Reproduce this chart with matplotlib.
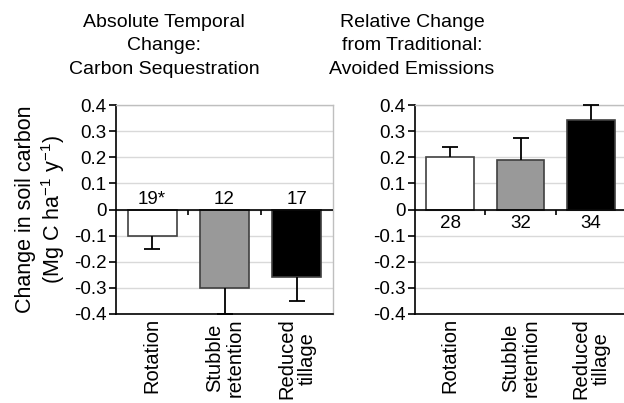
import numpy as np
import matplotlib
matplotlib.use("Agg")
import matplotlib.pyplot as plt

plt.rcParams["font.family"] = ["Liberation Sans", "DejaVu Sans"]
plt.rcParams["mathtext.fontset"] = "custom"
plt.rcParams["mathtext.rm"] = "Liberation Sans"
plt.rcParams["mathtext.it"] = "Liberation Sans:italic"

categories = ["Rotation", "Stubble\nretention", "Reduced\ntillage"]
bar_colors = ["white", "#999999", "black"]

abs_values = [-0.10, -0.30, -0.26]
abs_errors = [0.053, 0.10, 0.092]
abs_counts = ["19*", "12", "17"]

rel_values = [0.20, 0.19, 0.342]
rel_errors = [0.039, 0.085, 0.058]
rel_counts = ["28", "32", "34"]

titles = ["Absolute Temporal\nChange:\nCarbon Sequestration",
          "Relative Change\nfrom Traditional:\nAvoided Emissions"]
yticks = [-0.4, -0.3, -0.2, -0.1, 0, 0.1, 0.2, 0.3, 0.4]
ytick_labels = ["-0.4", "-0.3", "-0.2", "-0.1", "0", "0.1", "0.2", "0.3", "0.4"]

W, H = 624, 403
fig = plt.figure(figsize=(W / 100, H / 100), dpi=100)
fig.patch.set_facecolor("white")


def px_axes(x0, x1, y_top, y_bot):
    return fig.add_axes([x0 / W, (H - y_bot) / H, (x1 - x0) / W, (y_bot - y_top) / H])


def draw_panel(ax, values, errors, counts, counts_above):
    x = np.arange(1, len(values) + 1)
    ax.set_xlim(0.5, len(values) + 0.5)
    ax.set_ylim(-0.4, 0.4)
    ax.set_yticks(yticks)
    ax.set_yticklabels(ytick_labels)
    ax.yaxis.grid(True, color="#d9d9d9", linewidth=1)
    ax.set_axisbelow(True)

    ax.bar(x, values, width=0.68, color=bar_colors, edgecolor="#404040",
           linewidth=1.2, zorder=2)

    # one-sided error bars, pointing away from zero, capped only at the tip
    vals = np.array(values)
    tips = vals + np.sign(vals) * np.array(errors)
    ax.vlines(x, vals, tips, color="black", linewidth=1.3, zorder=3,
              clip_on=False)
    ax.plot(x, tips, ls="none", marker="_", markersize=11, mew=1.3,
            color="black", zorder=3, clip_on=False)

    ax.axhline(0, color="black", linewidth=1.2, zorder=4)
    ax.vlines(np.arange(1.5, len(values)), -0.022, 0, color="black",
              linewidth=1.2, zorder=4)

    for xi, c in zip(x, counts):
        if counts_above:
            ax.text(xi, 0.006, c, ha="center", va="bottom", fontsize=13.5)
        else:
            ax.text(xi, -0.022, c, ha="center", va="top", fontsize=13.5)

    ax.set_xticks(x)
    ax.set_xticklabels(categories, rotation=90, ha="center", va="top",
                       multialignment="center", fontsize=14.5, linespacing=1.1)
    ax.tick_params(axis="x", length=0, pad=3)
    ax.tick_params(axis="y", length=5, width=1.2, labelsize=13.5, pad=2,
                   color="black")

    for side in ("top", "right"):
        ax.spines[side].set_color("#bfbfbf")
        ax.spines[side].set_linewidth(1)
    for side in ("left", "bottom"):
        ax.spines[side].set_color("black")
        ax.spines[side].set_linewidth(1.2)


ax1 = px_axes(116, 333, 105, 314)
draw_panel(ax1, abs_values, abs_errors, abs_counts, True)
ax1.set_ylabel("Change in soil carbon\n(Mg C ha$^{-1}$ y$^{-1}$)", fontsize=15.5,
               linespacing=1.15, labelpad=5)

ax2 = px_axes(415, 626, 105, 314)
draw_panel(ax2, rel_values, rel_errors, rel_counts, False)

# panel titles sit left of the axes centres, as in the original layout
title_x = [164, 412]
for tx, t in zip(title_x, titles):
    fig.text(tx / W, 1 - 14 / H, t, ha="center", va="top", fontsize=14,
             linespacing=1.5)

fig.savefig("out.png", dpi=100, facecolor="white")
